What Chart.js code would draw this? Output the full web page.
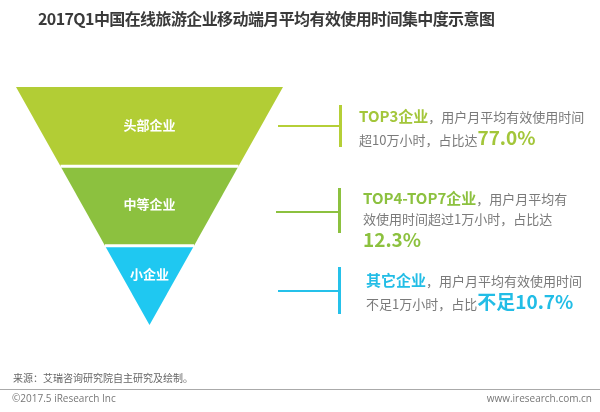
<!DOCTYPE html>
<html><head><meta charset="utf-8">
<script src="https://cdn.jsdelivr.net/npm/chart.js@4/dist/chart.umd.min.js"></script>
<style>
html,body{margin:0;padding:0;background:#fff;}
body{width:600px;height:412px;position:relative;overflow:hidden;font-family:"Noto Sans CJK SC","Noto Sans",sans-serif;}
#wrap{position:absolute;left:0;top:0;width:600px;height:412px;}
.title{position:absolute;left:38px;top:6px;font-size:16px;font-weight:bold;color:#3a3a3a;white-space:nowrap;letter-spacing:-0.6px;}
.note{position:absolute;font-size:13px;color:#7a7a7a;line-height:20px;white-space:nowrap;}
.note b{font-size:15px;}
.note .big{font-size:19px;font-weight:bold;}
.h{position:absolute;height:2px;}
.v{position:absolute;width:3px;}
.src{position:absolute;left:13px;top:370px;font-size:10px;color:#666;}
.rule{position:absolute;left:0;top:389px;width:600px;height:1px;background:#aaa;}
.copy{position:absolute;left:12px;top:391px;font-size:10px;color:#777;font-family:"Open Sans","Noto Sans",sans-serif;}
.url{position:absolute;right:8px;top:391px;font-size:10px;color:#777;font-family:"Open Sans","Noto Sans",sans-serif;}
</style></head>
<body>
<div id="wrap"><canvas id="c" width="600" height="412"></canvas></div>
<div class="title">2017Q1中国在线旅游企业移动端月平均有效使用时间集中度示意图</div>

<div class="h" style="left:278px;top:125px;width:62px;background:#b5cf37"></div>
<div class="v" style="left:339px;top:105px;height:42px;background:#b5cf37"></div>
<div class="note" style="left:359px;top:106px;"><b style="color:#a3c63a">TOP3企业</b>，用户月平均有效使用时间<br>超10万小时，占比达<span class="big" style="color:#a3c63a">77.0%</span></div>

<div class="h" style="left:276px;top:211px;width:63px;background:#8cc13f"></div>
<div class="v" style="left:338px;top:188px;height:45px;background:#8cc13f"></div>
<div class="note" style="left:363px;top:188px;"><b style="color:#8cc13f">TOP4-TOP7企业</b>，用户月平均有<br>效使用时间超过1万小时，占比达<br><span class="big" style="color:#8cc13f">12.3%</span></div>

<div class="h" style="left:278px;top:290px;width:61px;background:#25c1ea"></div>
<div class="v" style="left:338px;top:267px;height:47px;background:#25c1ea"></div>
<div class="note" style="left:366px;top:270px;"><b style="color:#22bde6">其它企业</b>，用户月平均有效使用时间<br>不足1万小时，占比<span class="big" style="color:#22bde6">不足10.7%</span></div>

<div class="src">来源：艾瑞咨询研究院自主研究及绘制。</div>
<div class="rule"></div>
<div class="copy">©2017.5 iResearch Inc</div>
<div class="url">www.iresearch.com.cn</div>

<script>
const categories = ['头部企业', '中等企业', '小企业'];
const groupNames = ['TOP3企业', 'TOP4-TOP7企业', '其它企业'];
const shares = [77.0, 12.3, 10.7];
const colors = ['#b2cd35', '#8cc13f', '#1fc8f1'];

const n = categories.length;
const datasets = [];
categories.forEach((cat, i) => {
  const t = n - i, b = t - 1;
  datasets.push({
    label: cat,
    data: [{x: -t / n, y: t}, {x: t / n, y: t}],
    borderWidth: i === 0 ? 0 : 3, pointRadius: 0, fill: '+1',
    backgroundColor: colors[i], borderColor: '#ffffff'
  });
  datasets.push({
    label: cat + '-edge',
    data: [{x: -t / n, y: t}, {x: -b / n, y: b}, {x: b / n, y: b}, {x: t / n, y: t}],
    borderWidth: 0, pointRadius: 0, fill: false,
    borderColor: colors[i]
  });
});

const labelPlugin = {
  id: 'funnelLabels',
  afterDatasetsDraw(chart) {
    const {ctx, scales: {x, y}} = chart;
    ctx.save();
    ctx.fillStyle = '#ffffff';
    ctx.font = 'bold 13px "Noto Sans CJK SC", sans-serif';
    ctx.textAlign = 'center';
    ctx.textBaseline = 'middle';
    categories.forEach((cat, i) => {
      const t = n - i, b = t - 1;
      const yv = b === 0 ? 0.62 : (t + b) / 2;
      ctx.fillText(cat, x.getPixelForValue(0), y.getPixelForValue(yv) - 2);
    });
    ctx.restore();
  }
};

new Chart(document.getElementById('c'), {
  type: 'line',
  data: {datasets},
  options: {
    responsive: false, animation: false,
    layout: {padding: {left: 16, right: 317, top: 87, bottom: 87}},
    scales: {
      x: {type: 'linear', min: -1, max: 1, display: false},
      y: {type: 'linear', min: 0, max: 3, display: false}
    },
    plugins: {
      legend: {display: false}, tooltip: {enabled: false},
      filler: {drawTime: 'beforeDatasetsDraw'}
    }
  },
  plugins: [labelPlugin]
});
</script>
</body></html>
